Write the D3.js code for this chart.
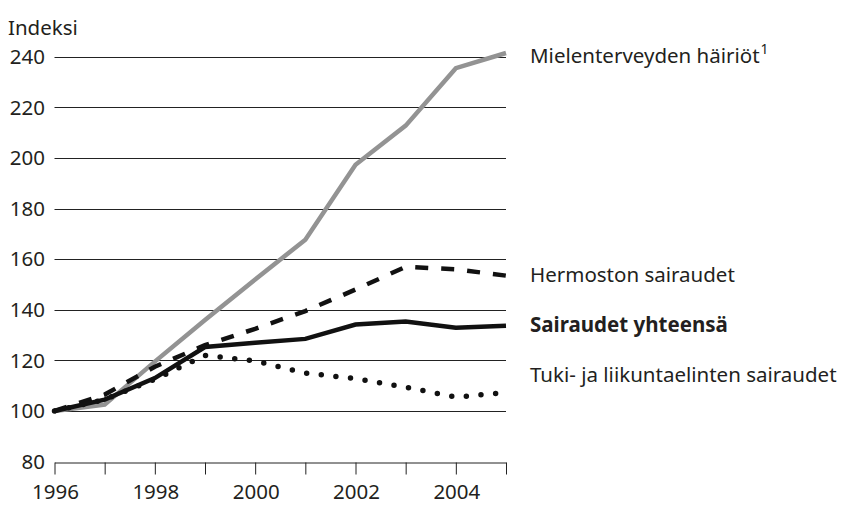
<!DOCTYPE html>
<html>
<head>
<meta charset="utf-8">
<script src="https://cdn.jsdelivr.net/npm/d3@7"></script>
<style>
  body { margin: 0; background: #fff; }
  svg { display: block; font-family: "Noto Sans", sans-serif; }
</style>
</head>
<body>
<svg id="chart" width="841" height="505"></svg>
<script>
// data
const years = [1996, 1997, 1998, 1999, 2000, 2001, 2002, 2003, 2004, 2005];
const mielenterveys = [100, 102.5, 119.5, 136, 152, 167.7, 197.3, 212.8, 235.5, 241.5];
const hermosto = [100, 106.5, 117.5, 126, 132.5, 139.5, 148, 157, 156, 153.5];
const yhteensa = [100, 104.5, 113, 125.3, 127, 128.5, 134.2, 135.4, 132.9, 133.7];
const tuki = [100, 104.5, 112.5, 122, 119.8, 115, 112.8, 109.4, 105.5, 107.3];
const yTicks = [80, 100, 120, 140, 160, 180, 200, 220, 240];
const xTickLabels = [1996, 1998, 2000, 2002, 2004];

const svg = d3.select("#chart");

// scales
const x = d3.scaleLinear().domain([1996, 2005]).range([54.5, 506]);
const y = d3.scaleLinear().domain([80, 240]).range([461.6, 56.8]);

// gridlines
svg.append("g")
    .selectAll("line")
    .data(yTicks.filter(d => d > 80))
    .join("line")
    .attr("x1", x(1996)).attr("x2", x(2005))
    .attr("y1", d => Math.round(y(d)) + 0.5).attr("y2", d => Math.round(y(d)) + 0.5)
    .attr("stroke", "#222").attr("stroke-width", 1);

// y labels
svg.append("g")
    .selectAll("text")
    .data(yTicks)
    .join("text")
    .attr("x", 45)
    .attr("y", d => y(d))
    .attr("dy", "0.35em")
    .attr("text-anchor", "end")
    .attr("font-size", 20.5)
    .attr("fill", "#231f20")
    .text(d => d);

svg.append("text")
    .attr("x", 8).attr("y", 35)
    .attr("font-size", 20.5).attr("fill", "#231f20")
    .text("Indeksi");

// x axis
const xAxis = svg.append("g")
    .attr("transform", `translate(0,${Math.round(y(80)) + 0.5})`)
    .call(d3.axisBottom(x).tickValues(years).tickSize(12).tickSizeOuter(0).tickFormat(""));
xAxis.select(".domain").attr("stroke", "#222");
xAxis.selectAll(".tick line").attr("stroke", "#222");

svg.append("g")
    .selectAll("text")
    .data(xTickLabels)
    .join("text")
    .attr("x", d => x(d) + 1)
    .attr("y", 499)
    .attr("text-anchor", "middle")
    .attr("font-size", 20.5)
    .attr("fill", "#231f20")
    .text(d => d);

// lines
const series = [
    {name: "Mielenterveyden häiriöt", values: mielenterveys, color: "#939393", dash: null, cap: "butt", width: 4.5, labelDy: 10, bold: false, sup: "1"},
    {name: "Hermoston sairaudet", values: hermosto, color: "#111", dash: "13,13", cap: "butt", width: 4.5, labelDy: 6.5, bold: false},
    {name: "Tuki- ja liikuntaelinten sairaudet", values: tuki, color: "#111", dash: "0,14.7", cap: "round", width: 5.5, labelDy: -10.4, bold: false},
    {name: "Sairaudet yhteensä", values: yhteensa, color: "#111", dash: null, cap: "butt", width: 4.5, labelDy: 6.5, bold: true}
];

const line = d3.line()
    .x((d, i) => x(years[i]))
    .y(d => y(d));

svg.append("g")
    .selectAll("path")
    .data(series)
    .join("path")
    .attr("d", d => line(d.values))
    .attr("fill", "none")
    .attr("stroke", d => d.color)
    .attr("stroke-width", d => d.width)
    .attr("stroke-linecap", d => d.cap)
    .attr("stroke-linejoin", "miter")
    .attr("stroke-dasharray", d => d.dash);

// labels
const labels = svg.append("g")
    .selectAll("text")
    .data(series)
    .join("text")
    .attr("x", 530)
    .attr("y", d => y(d.values[d.values.length - 1]) + d.labelDy)
    .attr("font-size", 20.5)
    .attr("font-weight", d => d.bold ? "bold" : "normal")
    .attr("fill", "#231f20")
    .text(d => d.name);

labels.filter(d => d.sup)
    .append("tspan")
    .attr("dy", -9)
    .attr("dx", 1)
    .attr("font-size", 14)
    .text(d => d.sup);
</script>
</body>
</html>
